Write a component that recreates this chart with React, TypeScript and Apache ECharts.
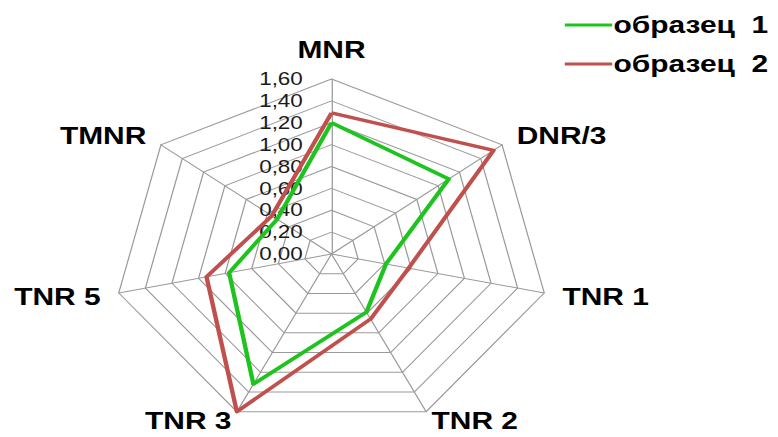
import React, { useEffect, useRef } from "react";
import * as echarts from "echarts";

// Indicators in clockwise order (as seen in the picture), starting at the top
const indicatorNames = ["MNR", "DNR/3", "TNR 1", "TNR 2", "TNR 3", "TNR 5", "TMNR"];
const sample1 = [1.2, 1.1, 0.41, 0.59, 1.32, 0.77, 0.51];
const sample2 = [1.29, 1.52, 0.58, 0.66, 1.6, 0.94, 0.56];
const seriesNames = ["образец  1", "образец  2"];
const axisMax = 1.6;
const ringCount = 8;

const STRETCH = 1.2468;
const W = 778;
const H = 437;
const INNER_W = Math.round(W / STRETCH);

// ECharts places radar indicators counter-clockwise; reverse all but the first
const order = [0, 6, 5, 4, 3, 2, 1];
const reorder = (arr: any[]) => order.map((i) => arr[i]);

export default function App() {
  const ref = useRef<HTMLDivElement>(null);
  useEffect(() => {
    document.body.style.margin = "0";
    const chart = echarts.init(ref.current!, undefined, {
      renderer: "svg",
      width: INNER_W,
      height: H,
    });
    const font = "'Liberation Sans', Arial, sans-serif";
    const indicators = reorder(indicatorNames).map((name: string, k: number) => {
      const ind: any = { name, min: 0, max: axisMax };
      if (name === "TNR 2" || name === "TNR 3") ind.nameGap = 10;
      if (k === 0) {
        ind.nameGap = 19;
        ind.axisLabel = {
          show: true,
          fontSize: 18,
          color: "#1a1a1a",
          fontFamily: font,
          margin: 23,
          formatter: (v: number) => v.toFixed(2).replace(".", ","),
        };
      }
      return ind;
    });
    chart.setOption({
      animation: false,
      legend: {
        orient: "vertical",
        left: 448,
        top: 8,
        itemGap: 15,
        icon: "rect",
        itemWidth: 38,
        itemHeight: 3,
        textStyle: {
          fontSize: 24,
          fontWeight: "bold",
          color: "#000",
          fontFamily: font,
          padding: [0, 0, 0, -4],
        },
        data: seriesNames,
      },
      radar: {
        center: [331.5 / STRETCH, 254],
        radius: 175,
        startAngle: 90,
        shape: "polygon",
        splitNumber: ringCount,
        indicator: indicators,
        nameGap: 15,
        axisName: {
          color: "#000",
          fontSize: 24,
          lineHeight: 20,
          fontWeight: "bold",
          fontFamily: font,
        },
        axisLine: { show: true, lineStyle: { color: "#9a9a9a", width: 1 } },
        splitLine: { show: true, lineStyle: { color: "#9a9a9a", width: 1 } },
        splitArea: { show: false },
        axisLabel: { show: false },
        axisTick: { show: false },
      },
      series: [
        {
          type: "radar",
          symbol: "none",
          data: [
            {
              name: seriesNames[0],
              value: reorder(sample1),
              lineStyle: { color: "#1ec41e", width: 3.5 },
              itemStyle: { color: "#1ec41e" },
            },
            {
              name: seriesNames[1],
              value: reorder(sample2),
              lineStyle: { color: "#c0504d", width: 3.5 },
              itemStyle: { color: "#c0504d" },
            },
          ],
        },
      ],
    });
    return () => chart.dispose();
  }, []);
  return (
    <div style={{ width: W, height: H, overflow: "hidden", background: "#fff" }}>
      <div
        ref={ref}
        style={{
          width: INNER_W,
          height: H,
          transform: `scaleX(${STRETCH})`,
          transformOrigin: "0 0",
        }}
      />
    </div>
  );
}
